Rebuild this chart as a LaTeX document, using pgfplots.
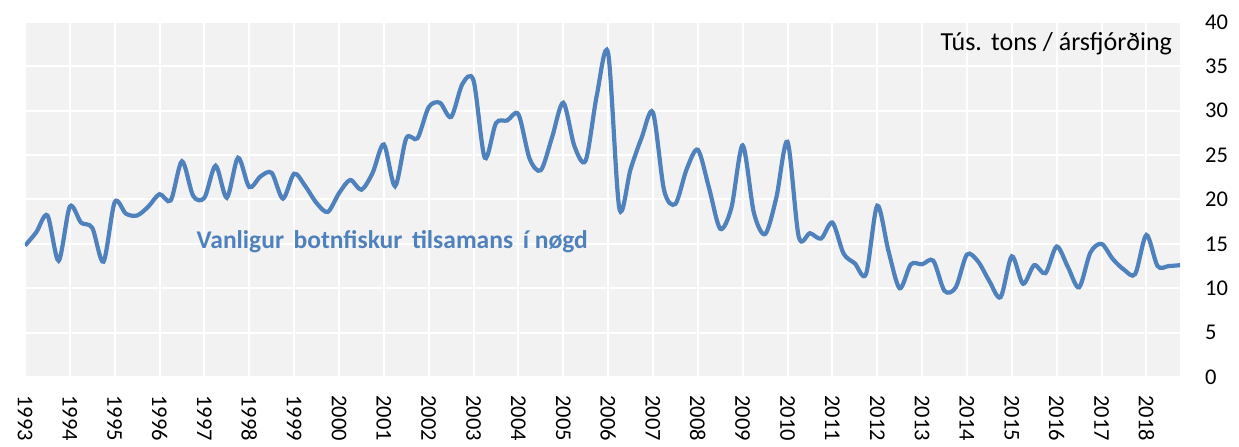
\documentclass[border=0pt]{standalone}
\usepackage{fontspec}
\setmainfont{Carlito}
\usepackage{pgfplots}
\pgfplotsset{compat=1.18}
\usepackage{pgfplotstable}
\definecolor{lineblue}{HTML}{4F81BD}
\definecolor{plotbg}{HTML}{F2F2F2}

\pgfplotstableread{
k v
0 14.8
1 16.3
2 18.2
3 13.1
4 19.2
5 17.4
6 16.8
7 13.0
8 19.7
9 18.4
10 18.2
11 19.2
12 20.6
13 19.9
14 24.3
15 20.4
16 20.2
17 23.8
18 20.2
19 24.7
20 21.4
21 22.6
22 23.0
23 20.1
24 22.9
25 21.5
26 19.6
27 18.6
28 20.7
29 22.2
30 21.1
31 23.0
32 26.2
33 21.5
34 26.9
35 26.9
36 30.4
37 30.9
38 29.3
39 33.0
40 33.4
41 24.7
42 28.6
43 28.9
44 29.6
45 24.6
46 23.3
47 27.0
48 30.9
49 26.0
50 24.4
51 31.8
52 36.5
53 19.0
54 23.4
55 27.0
56 29.8
57 21.0
58 19.5
59 23.4
60 25.6
61 21.3
62 16.7
63 19.1
64 26.1
65 18.5
66 16.1
67 20.2
68 26.5
69 15.8
70 16.2
71 15.6
72 17.4
73 13.9
74 12.8
75 11.6
76 19.3
77 14.2
78 10.0
79 12.7
80 12.7
81 13.1
82 9.7
83 10.1
84 13.8
85 13.0
86 10.8
87 9.0
88 13.6
89 10.5
90 12.6
91 11.7
92 14.7
93 12.4
94 10.1
95 14.0
96 15.0
97 13.3
98 12.1
99 11.6
100 16.0
101 12.5
102 12.5
103 12.6
}\datatable

\begin{document}
\begin{tikzpicture}
\begin{axis}[
  name=ax,
  scale only axis,
  width=1155pt, height=355pt,
  xmin=0, xmax=103, ymin=0, ymax=40,
  axis background/.style={fill=plotbg},
  axis line style={draw=none},
  xtick={0,4,...,100},
  xticklabels={1993,1994,1995,1996,1997,1998,1999,2000,2001,2002,2003,2004,2005,2006,2007,2008,2009,2010,2011,2012,2013,2014,2015,2016,2017,2018},
  ytick={0,5,...,40},
  grid=major,
  major grid style={white, line width=2pt},
  major tick length=0pt,
  tick style={draw=none},
  ytick pos=right,
  yticklabel pos=right,
  /pgf/number format/assume math mode=true,
  yticklabel style={anchor=west, inner sep=0pt, font=\fontsize{22.5}{26}\selectfont, text=black},
  yticklabel shift=25pt,
  xticklabel style={rotate=-90, anchor=west, inner sep=0pt, font=\fontsize{22.5}{26}\selectfont, text=black},
  xticklabel shift=18pt,
]
\addplot[lineblue, line width=4.2pt, smooth, no markers] table[x=k, y=v] {\datatable};
\node[anchor=base west, font=\bfseries\fontsize{25.5}{30}\selectfont, text=lineblue] at (axis cs:15.0,14.5) {Vanligur\hspace{0.15em} botnfiskur\hspace{0.15em} tilsamans\hspace{0.15em} í nøgd};
\node[anchor=base east, font=\fontsize{26}{30}\selectfont, text=black] at (axis cs:102.6,36.8) {Tús.\hspace{0.05em} tons / ársfjórðing};
\end{axis}
\path ([shift={(-25pt,-69pt)}]ax.south west) rectangle ([shift={(59pt,22pt)}]ax.north east);
\end{tikzpicture}
\end{document}
